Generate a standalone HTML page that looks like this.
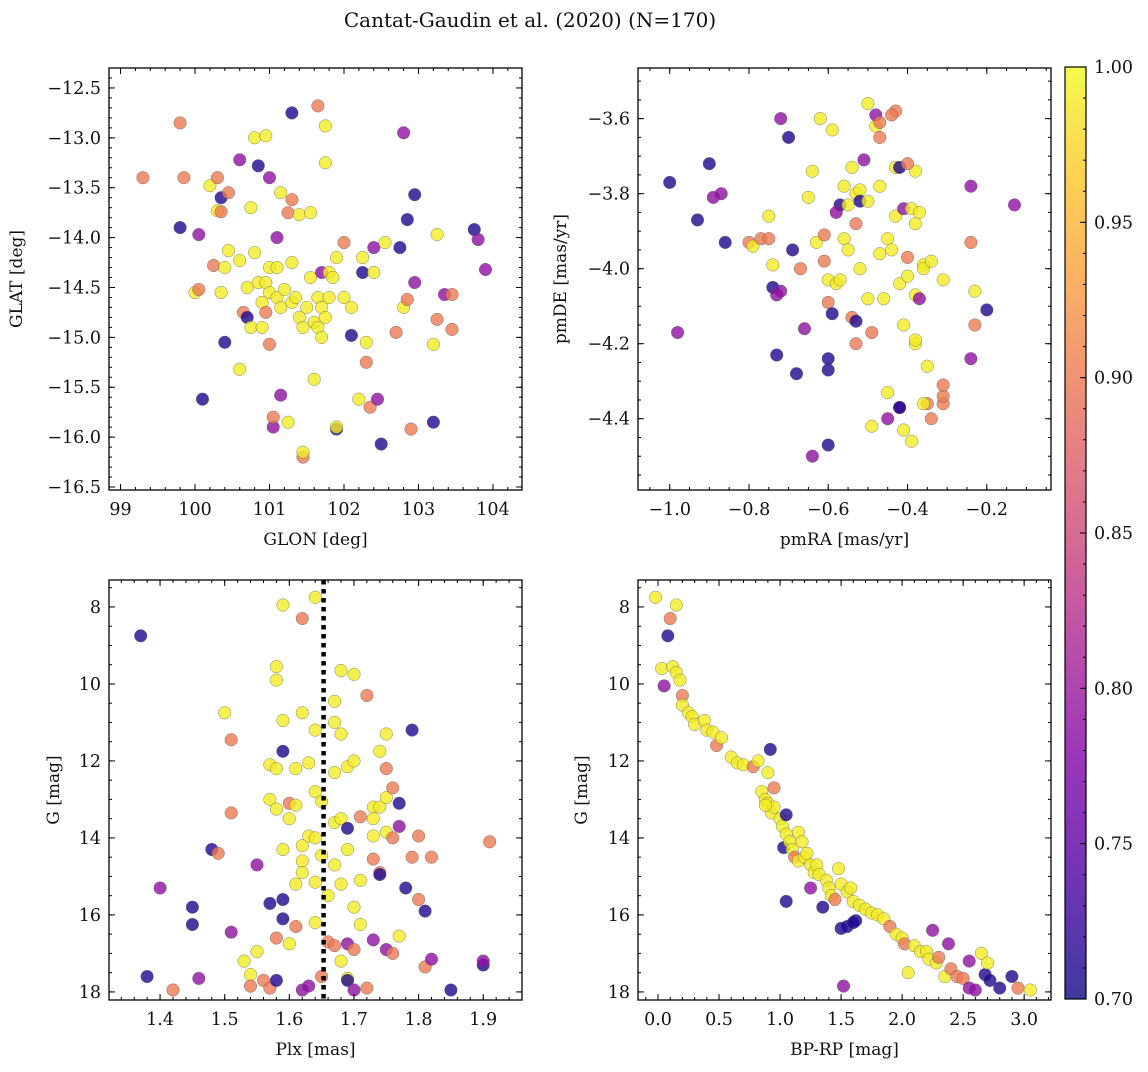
<!DOCTYPE html>
<html><head><meta charset="utf-8"><style>
html,body{margin:0;padding:0;background:#fff}
svg text{font-family:"DejaVu Serif","Liberation Serif",serif;fill:#111}
</style></head><body>
<svg id="fig" width="1148" height="1067" viewBox="0 0 1148 1067" xmlns="http://www.w3.org/2000/svg">
<text x="530" y="27" font-size="20" text-anchor="middle">Cantat-Gaudin et al. (2020) (N=170)</text>
</svg>
<script>
// ---------- data (y=1.0-ish, o=~0.9, m=~0.79, b=~0.71 membership probability) ----------
const P = {y:0.99, o:0.90, m:0.79, b:0.71};
const glonGlat = [[99.3,-13.4,'o'],[99.8,-12.85,'o'],[99.85,-13.4,'o'],[99.8,-13.9,'b'],[100.05,-13.97,'m'],[100.0,-14.55,'y'],[100.05,-14.52,'o'],[100.1,-15.62,'b'],[100.2,-13.48,'y'],[100.3,-13.4,'o'],[100.3,-13.73,'y'],[100.25,-14.28,'o'],[100.35,-13.6,'b'],[100.35,-13.74,'o'],[100.35,-14.55,'y'],[100.45,-13.55,'o'],[100.45,-14.13,'y'],[100.4,-14.3,'y'],[100.4,-15.05,'b'],[100.6,-13.22,'m'],[100.6,-14.23,'y'],[100.6,-15.32,'y'],[100.65,-14.75,'o'],[100.7,-14.5,'y'],[100.7,-14.8,'b'],[100.75,-14.9,'y'],[100.8,-13.0,'y'],[100.8,-14.15,'y'],[100.85,-14.45,'y'],[100.85,-13.28,'b'],[100.9,-14.9,'y'],[100.9,-14.65,'y'],[100.95,-12.98,'y'],[100.95,-14.45,'y'],[100.95,-14.75,'o'],[101.0,-15.07,'o'],[101.0,-13.4,'m'],[101.0,-14.3,'y'],[101.0,-14.55,'y'],[101.05,-15.9,'m'],[101.05,-15.8,'o'],[101.1,-14.0,'m'],[101.1,-14.3,'y'],[101.1,-14.6,'y'],[101.15,-13.55,'y'],[101.15,-14.7,'y'],[101.15,-15.58,'m'],[101.2,-14.52,'y'],[101.25,-15.85,'y'],[101.25,-13.75,'o'],[101.3,-12.75,'b'],[101.3,-13.62,'o'],[101.3,-14.25,'y'],[101.3,-14.65,'y'],[101.35,-14.6,'y'],[101.4,-13.77,'y'],[101.4,-14.8,'y'],[101.45,-14.9,'y'],[101.45,-16.2,'o'],[101.45,-16.15,'y'],[101.5,-14.7,'y'],[101.55,-13.75,'y'],[101.55,-14.4,'y'],[101.6,-14.85,'y'],[101.65,-12.68,'o'],[101.65,-14.6,'y'],[101.65,-14.9,'y'],[101.6,-15.42,'y'],[101.7,-14.7,'y'],[101.7,-14.35,'m'],[101.7,-15.0,'y'],[101.75,-12.88,'y'],[101.75,-13.25,'y'],[101.75,-14.8,'y'],[101.8,-14.35,'y'],[101.8,-14.6,'y'],[101.85,-14.4,'y'],[101.9,-14.2,'y'],[101.9,-15.92,'b'],[101.9,-15.9,'y'],[102.0,-14.05,'o'],[102.0,-14.6,'y'],[102.1,-14.98,'b'],[102.1,-14.7,'y'],[102.2,-15.62,'y'],[102.25,-14.35,'b'],[102.25,-14.2,'y'],[102.3,-15.25,'o'],[102.3,-15.05,'y'],[102.35,-15.7,'o'],[102.4,-14.1,'m'],[102.4,-14.35,'y'],[102.45,-15.62,'m'],[102.5,-16.07,'b'],[102.55,-14.05,'y'],[102.7,-14.95,'o'],[102.75,-14.1,'b'],[102.8,-14.7,'y'],[102.8,-12.95,'m'],[102.85,-13.82,'b'],[102.85,-14.62,'o'],[102.9,-15.92,'o'],[102.95,-14.45,'m'],[102.95,-13.57,'b'],[103.2,-15.07,'y'],[103.25,-13.97,'y'],[103.2,-15.85,'b'],[103.25,-14.82,'o'],[103.35,-14.57,'m'],[103.45,-14.57,'o'],[103.45,-14.92,'o'],[103.75,-13.92,'b'],[103.8,-14.02,'m'],[103.9,-14.32,'m'],[100.75,-13.7,'y']];
const pmraPmde = [[-1.0,-3.77,'b'],[-0.98,-4.17,'m'],[-0.93,-3.87,'b'],[-0.9,-3.72,'b'],[-0.89,-3.81,'m'],[-0.87,-3.8,'m'],[-0.86,-3.93,'b'],[-0.8,-3.93,'o'],[-0.79,-3.94,'y'],[-0.77,-3.92,'o'],[-0.75,-3.86,'y'],[-0.74,-3.99,'y'],[-0.74,-4.05,'b'],[-0.73,-4.07,'m'],[-0.72,-4.06,'m'],[-0.75,-3.92,'o'],[-0.72,-3.6,'m'],[-0.7,-3.65,'b'],[-0.73,-4.23,'b'],[-0.69,-3.95,'b'],[-0.68,-4.28,'b'],[-0.67,-4.0,'o'],[-0.66,-4.16,'m'],[-0.65,-3.81,'y'],[-0.64,-3.74,'y'],[-0.63,-3.93,'y'],[-0.62,-3.6,'y'],[-0.61,-3.98,'o'],[-0.61,-3.91,'o'],[-0.6,-4.03,'y'],[-0.64,-4.5,'m'],[-0.6,-4.09,'o'],[-0.59,-4.12,'b'],[-0.59,-3.63,'y'],[-0.6,-4.47,'b'],[-0.6,-4.27,'b'],[-0.6,-4.24,'b'],[-0.58,-4.04,'y'],[-0.57,-4.03,'y'],[-0.57,-3.83,'b'],[-0.56,-3.92,'y'],[-0.58,-3.85,'m'],[-0.56,-3.78,'y'],[-0.55,-3.83,'y'],[-0.55,-3.95,'y'],[-0.54,-4.13,'o'],[-0.54,-3.73,'y'],[-0.53,-3.88,'o'],[-0.53,-3.8,'y'],[-0.52,-3.79,'y'],[-0.52,-3.82,'b'],[-0.52,-4.0,'y'],[-0.53,-4.14,'b'],[-0.51,-3.71,'m'],[-0.5,-3.82,'y'],[-0.5,-4.08,'y'],[-0.49,-4.17,'o'],[-0.53,-4.2,'o'],[-0.5,-3.56,'y'],[-0.48,-3.62,'y'],[-0.47,-3.96,'y'],[-0.47,-3.78,'y'],[-0.49,-4.42,'y'],[-0.48,-3.59,'m'],[-0.46,-4.08,'y'],[-0.45,-3.92,'y'],[-0.47,-3.61,'o'],[-0.47,-3.65,'o'],[-0.44,-3.95,'y'],[-0.43,-3.73,'y'],[-0.43,-3.86,'y'],[-0.42,-4.04,'y'],[-0.41,-3.84,'m'],[-0.42,-3.73,'b'],[-0.42,-4.37,'m'],[-0.45,-4.4,'m'],[-0.43,-3.58,'o'],[-0.45,-4.33,'y'],[-0.39,-3.84,'y'],[-0.44,-3.59,'o'],[-0.38,-4.07,'y'],[-0.36,-3.99,'y'],[-0.42,-4.37,'b'],[-0.41,-4.43,'y'],[-0.38,-3.74,'y'],[-0.4,-3.72,'o'],[-0.4,-3.97,'o'],[-0.41,-4.15,'y'],[-0.39,-4.46,'y'],[-0.38,-4.2,'y'],[-0.38,-4.19,'y'],[-0.37,-3.85,'y'],[-0.36,-4.0,'y'],[-0.37,-4.08,'m'],[-0.38,-3.88,'y'],[-0.35,-4.36,'o'],[-0.36,-4.36,'y'],[-0.4,-4.02,'y'],[-0.35,-4.26,'y'],[-0.34,-3.98,'y'],[-0.34,-4.4,'o'],[-0.31,-4.36,'o'],[-0.31,-4.34,'o'],[-0.31,-4.31,'o'],[-0.31,-4.03,'y'],[-0.24,-3.78,'m'],[-0.24,-4.24,'m'],[-0.24,-3.93,'o'],[-0.23,-4.15,'o'],[-0.23,-4.06,'y'],[-0.2,-4.11,'b'],[-0.13,-3.83,'m']];
const plxG = [[1.37,8.75,'b'],[1.38,17.6,'b'],[1.40,15.3,'m'],[1.42,17.95,'o'],[1.45,15.8,'b'],[1.45,16.25,'b'],[1.46,17.65,'m'],[1.48,14.3,'b'],[1.49,14.4,'o'],[1.5,10.75,'y'],[1.51,11.45,'o'],[1.51,13.35,'o'],[1.51,16.45,'m'],[1.53,17.2,'y'],[1.54,17.55,'y'],[1.54,17.85,'o'],[1.55,14.7,'m'],[1.55,16.95,'y'],[1.56,17.7,'o'],[1.57,17.9,'o'],[1.57,12.1,'y'],[1.57,13.0,'y'],[1.57,15.7,'b'],[1.58,9.55,'y'],[1.58,9.9,'y'],[1.58,12.2,'y'],[1.58,13.25,'y'],[1.58,16.6,'o'],[1.59,7.95,'y'],[1.59,10.95,'y'],[1.59,11.75,'b'],[1.59,14.3,'y'],[1.59,15.6,'b'],[1.59,16.1,'b'],[1.58,17.7,'b'],[1.6,13.1,'o'],[1.6,13.5,'y'],[1.6,16.75,'y'],[1.61,12.2,'y'],[1.61,13.15,'y'],[1.61,15.2,'y'],[1.61,16.3,'o'],[1.62,8.3,'o'],[1.62,10.75,'y'],[1.62,14.2,'y'],[1.62,14.6,'y'],[1.62,14.9,'y'],[1.63,12.05,'y'],[1.63,13.95,'y'],[1.62,17.95,'m'],[1.63,17.85,'m'],[1.64,7.75,'y'],[1.64,11.2,'y'],[1.64,12.8,'y'],[1.64,14.0,'y'],[1.64,15.15,'y'],[1.64,16.2,'y'],[1.65,17.6,'o'],[1.65,13.05,'y'],[1.65,14.45,'y'],[1.66,15.5,'y'],[1.66,16.7,'o'],[1.67,10.45,'y'],[1.67,11.0,'y'],[1.67,12.3,'y'],[1.67,13.6,'y'],[1.67,14.7,'y'],[1.67,16.8,'o'],[1.68,9.65,'y'],[1.68,11.3,'y'],[1.68,13.5,'y'],[1.68,15.2,'y'],[1.68,17.2,'y'],[1.69,12.15,'y'],[1.69,13.75,'b'],[1.69,14.3,'y'],[1.69,16.75,'m'],[1.69,17.65,'y'],[1.69,17.7,'b'],[1.7,9.75,'y'],[1.7,12.0,'y'],[1.7,15.8,'y'],[1.7,16.9,'o'],[1.7,17.95,'m'],[1.71,13.45,'o'],[1.71,15.1,'y'],[1.71,16.25,'y'],[1.72,10.3,'o'],[1.72,17.9,'o'],[1.73,13.2,'y'],[1.73,13.5,'y'],[1.73,13.95,'y'],[1.73,14.55,'o'],[1.73,16.65,'m'],[1.74,11.75,'y'],[1.74,13.2,'y'],[1.74,14.9,'o'],[1.74,14.95,'b'],[1.75,11.3,'y'],[1.75,12.2,'o'],[1.75,12.95,'y'],[1.75,13.85,'y'],[1.75,16.9,'m'],[1.76,12.7,'o'],[1.76,14.0,'o'],[1.76,17.0,'o'],[1.77,13.1,'b'],[1.77,13.7,'m'],[1.77,16.55,'y'],[1.78,15.3,'b'],[1.79,11.2,'b'],[1.79,14.5,'o'],[1.8,13.95,'o'],[1.8,15.6,'o'],[1.81,15.9,'b'],[1.81,17.35,'o'],[1.82,17.15,'m'],[1.82,14.5,'o'],[1.85,17.95,'b'],[1.9,17.3,'b'],[1.9,17.2,'m'],[1.91,14.1,'o']];
const bprpG = [[-0.02,7.75,'y'],[0.1,8.3,'o'],[0.15,7.95,'y'],[0.08,8.75,'b'],[0.03,9.6,'y'],[0.12,9.55,'y'],[0.15,9.7,'y'],[0.18,9.9,'y'],[0.05,10.05,'m'],[0.2,10.3,'o'],[0.2,10.55,'y'],[0.25,10.75,'y'],[0.28,10.85,'y'],[0.3,11.05,'y'],[0.38,10.95,'y'],[0.4,11.2,'y'],[0.45,11.25,'y'],[0.48,11.6,'o'],[0.52,11.4,'y'],[0.6,11.9,'y'],[0.65,12.05,'y'],[0.7,12.1,'y'],[0.78,12.15,'o'],[0.82,12.0,'y'],[0.92,11.7,'b'],[0.9,12.3,'y'],[0.95,12.7,'o'],[0.85,12.8,'y'],[0.88,13.0,'y'],[0.9,13.1,'y'],[0.93,13.35,'y'],[0.95,13.2,'y'],[1.0,13.5,'y'],[1.02,13.7,'y'],[1.05,13.4,'b'],[1.03,14.25,'b'],[1.05,13.9,'y'],[1.08,14.1,'y'],[1.1,14.3,'y'],[1.12,14.5,'o'],[1.15,13.85,'y'],[1.15,14.6,'y'],[1.18,14.1,'y'],[1.2,14.5,'y'],[1.22,14.4,'y'],[1.25,15.3,'m'],[1.25,14.7,'y'],[1.28,14.9,'y'],[1.3,14.7,'y'],[1.32,14.95,'y'],[1.35,15.8,'b'],[1.38,15.1,'y'],[1.4,15.3,'y'],[1.42,15.5,'y'],[1.45,15.6,'o'],[1.48,14.8,'y'],[1.5,15.2,'y'],[1.5,16.35,'b'],[1.52,17.85,'m'],[1.55,16.3,'b'],[1.55,15.4,'y'],[1.58,15.3,'y'],[1.6,15.65,'y'],[1.62,16.15,'b'],[1.65,15.75,'y'],[1.7,15.85,'y'],[1.75,15.95,'y'],[1.8,16.0,'y'],[1.85,16.1,'y'],[1.9,16.3,'o'],[1.95,16.5,'y'],[2.0,16.6,'y'],[2.02,16.75,'o'],[2.05,17.5,'y'],[2.1,16.8,'y'],[2.15,16.95,'y'],[2.2,16.95,'y'],[2.22,17.15,'y'],[2.25,16.4,'m'],[2.28,17.25,'y'],[2.3,17.1,'o'],[2.35,17.6,'y'],[2.38,16.75,'m'],[2.4,17.4,'o'],[2.45,17.6,'o'],[2.5,17.65,'o'],[2.55,17.9,'m'],[2.6,17.95,'m'],[2.55,17.2,'m'],[2.65,17.0,'y'],[2.68,17.55,'b'],[2.7,17.25,'y'],[2.72,17.7,'b'],[2.8,17.9,'b'],[2.9,17.6,'b'],[2.95,17.9,'o'],[3.05,17.95,'y'],[1.6,16.2,'b'],[1.05,15.65,'b'],[0.88,13.15,'y']];
const meanPlx = 1.653;
const cbTicks = [0.70,0.75,0.80,0.85,0.90,0.95,1.00];

// ---------- helpers ----------
const NS = 'http://www.w3.org/2000/svg';
const svg = document.getElementById('fig');
function mk(tag, attrs, parent){ const e=document.createElementNS(NS,tag); for(const k in attrs) e.setAttribute(k,attrs[k]); (parent||svg).appendChild(e); return e; }
const stops=[[0,[13,8,135]],[0.125,[76,2,161]],[0.25,[126,3,168]],[0.375,[168,34,150]],[0.5,[204,71,120]],[0.625,[229,107,93]],[0.75,[248,149,64]],[0.875,[253,195,40]],[1,[240,249,33]]];
function plasma(t){ t=Math.max(0,Math.min(1,t)); for(let i=1;i<stops.length;i++){ if(t<=stops[i][0]){ const a=stops[i-1],b=stops[i],f=(t-a[0])/(b[0]-a[0]); return 'rgb('+a[1].map((v,j)=>Math.round(v+(b[1][j]-v)*f)).join(',')+')'; } } return 'rgb(240,249,33)'; }
const cnorm = p => (p-0.70)/0.30;
function fmt(v,d){ return (v<0?'\u2212':'')+Math.abs(v).toFixed(d); }
const TFS = 17.5, LFS = 17;

function panel(cfg){
  const {name,x0,x1,y0,y1,xmin,xmax,ymin,ymax,xMaj,xMin,yMaj,yMin,xd,yd,xlab,ylab,pts} = cfg;
  const sx = v => x0+(v-xmin)/(xmax-xmin)*(x1-x0);
  const sy = v => y1-(v-ymin)/(ymax-ymin)*(y1-y0);
  const g = mk('g',{});
  
  
  const clipId=name+'-clip';
  const cp=mk('clipPath',{id:clipId},g); mk('rect',{x:x0,y:y0,width:x1-x0,height:y1-y0},cp);
  const pg = mk('g',{'clip-path':'url(#'+clipId+')'},g);
  pts.forEach(d=>{
    const c = mk('circle',{cx:sx(d[0]).toFixed(1),cy:sy(d[1]).toFixed(1),r:6.3,fill:plasma(cnorm(P[d[2]])),'fill-opacity':0.8,stroke:'#555','stroke-width':0.5,'stroke-opacity':0.7},pg);
    
    
  });
  if(cfg.extra) cfg.extra(pg,sx,sy);
  const lo=Math.min(ymin,ymax), hi=Math.max(ymin,ymax);
  const inX=v=>v>=xmin-1e-9&&v<=xmax+1e-9, inY=v=>v>=lo-1e-9&&v<=hi+1e-9;
  const tk=mk('g',{stroke:'#000','stroke-width':1},g);
  for(let v=Math.ceil(xmin/xMin)*xMin; v<=xmax; v+=xMin){ const X=sx(v); mk('line',{x1:X,x2:X,y1:y1,y2:y1-3},tk); mk('line',{x1:X,x2:X,y1:y0,y2:y0+3},tk); }
  for(let v=Math.ceil(lo/yMin)*yMin; v<=hi; v+=yMin){ const Y=sy(v); mk('line',{x1:x0,x2:x0+3,y1:Y,y2:Y},tk); mk('line',{x1:x1,x2:x1-3,y1:Y,y2:Y},tk); }
  xMaj.filter(inX).forEach(v=>{ const X=sx(v); mk('line',{x1:X,x2:X,y1:y1,y2:y1-6},tk); mk('line',{x1:X,x2:X,y1:y0,y2:y0+6},tk);
    const t=mk('text',{x:X,y:y1+25,'font-size':TFS,'text-anchor':'middle'},g); t.textContent=fmt(v,xd);
    
     });
  yMaj.filter(inY).forEach(v=>{ const Y=sy(v); mk('line',{x1:x0,x2:x0+6,y1:Y,y2:Y},tk); mk('line',{x1:x1,x2:x1-6,y1:Y,y2:Y},tk);
    const t=mk('text',{x:x0-8,y:Y+6,'font-size':TFS,'text-anchor':'end'},g); t.textContent=fmt(v,yd);
    
     });
  mk('rect',{x:x0,y:y0,width:x1-x0,height:y1-y0,fill:'none',stroke:'#000','stroke-width':1.3},g);
  const xl=mk('text',{x:(x0+x1)/2,y:y1+55,'font-size':LFS,'text-anchor':'middle'},g); xl.textContent=xlab;
  
  
  const yx=cfg.ylx, yy=(y0+y1)/2;
  const yl=mk('text',{x:yx,y:yy,'font-size':LFS,'text-anchor':'middle',transform:'rotate(-90 '+yx+' '+yy+')'},g); yl.textContent=ylab;
  
  
}
const rng=(a,b,s)=>{const r=[];for(let v=a;v<=b+1e-9;v+=s)r.push(Math.round(v*1000)/1000);return r;};

panel({name:'glon-glat',x0:109,x1:522,y0:68,y1:490,xmin:98.845,xmax:104.39,ymin:-16.53,ymax:-12.30,
  xMaj:rng(99,104,1),xMin:0.2,yMaj:rng(-16.5,-12.5,0.5),yMin:0.1,xd:0,yd:1,xlab:'GLON [deg]',ylab:'GLAT [deg]',ylx:22,pts:glonGlat});
panel({name:'pm',x0:638,x1:1051,y0:68,y1:490,xmin:-1.08,xmax:-0.038,ymin:-4.59,ymax:-3.465,
  xMaj:rng(-1.0,-0.2,0.2),xMin:0.05,yMaj:rng(-4.4,-3.6,0.2),yMin:0.05,xd:1,yd:1,xlab:'pmRA [mas/yr]',ylab:'pmDE [mas/yr]',ylx:566,pts:pmraPmde});
panel({name:'plx-g',x0:109,x1:522,y0:580,y1:1000,xmin:1.321,xmax:1.96,ymin:18.21,ymax:7.3,
  xMaj:rng(1.4,1.9,0.1),xMin:0.02,yMaj:rng(8,18,2),yMin:0.5,xd:1,yd:0,xlab:'Plx [mas]',ylab:'G [mag]',ylx:59,pts:plxG,
  extra:(g,sx,sy)=>{ const l=mk('line',{x1:sx(meanPlx),x2:sx(meanPlx),y1:580,y2:1000,stroke:'#000','stroke-width':4.5,'stroke-dasharray':'4.5,4.5'},g);
    
     }});
panel({name:'cmd',x0:638,x1:1051,y0:580,y1:1000,xmin:-0.164,xmax:3.22,ymin:18.21,ymax:7.3,
  xMaj:rng(0,3,0.5),xMin:0.1,yMaj:rng(8,18,2),yMin:0.5,xd:1,yd:0,xlab:'BP-RP [mag]',ylab:'G [mag]',ylx:587,pts:bprpG});

// colorbar
(function(){
  const cx0=1065,cx1=1086,cy0=67,cy1=999;
  const g=mk('g',{});
  
  
  const defs=mk('defs',{},g); const lg=mk('linearGradient',{id:'cbg',x1:0,y1:1,x2:0,y2:0},defs);
  for(let i=0;i<=20;i++){ mk('stop',{offset:i/20,'stop-color':plasma(i/20),'stop-opacity':0.8},lg); }
  mk('rect',{x:cx0,y:cy0,width:cx1-cx0,height:cy1-cy0,fill:'url(#cbg)'},g);
  const sy=v=>cy1-(v-0.70)/0.30*(cy1-cy0);
  for(let v=0.70;v<=1.0001;v+=0.01){ const Y=sy(v); mk('line',{x1:cx1,x2:cx1-3,y1:Y,y2:Y,stroke:'#000'},g); }
  cbTicks.forEach(v=>{ const Y=sy(v); mk('line',{x1:cx1,x2:cx1-6,y1:Y,y2:Y,stroke:'#000'},g);
    const t=mk('text',{x:cx1+8,y:Y+6,'font-size':TFS},g); t.textContent=v.toFixed(2);
    
     });
  mk('rect',{x:cx0,y:cy0,width:cx1-cx0,height:cy1-cy0,fill:'none',stroke:'#000','stroke-width':1.2},g);
})();
</script>
</body></html>
